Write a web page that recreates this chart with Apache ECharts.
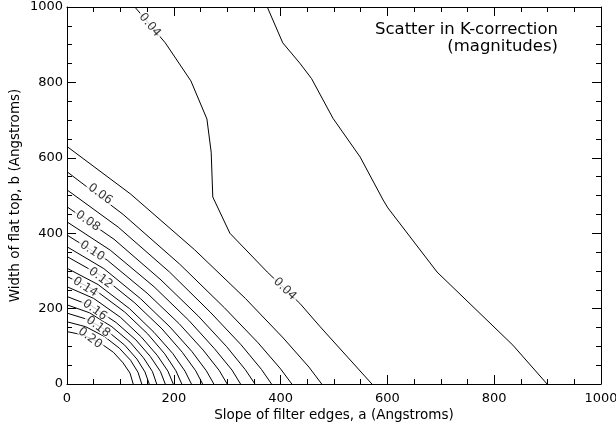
<!DOCTYPE html>
<html>
<head>
<meta charset="utf-8">
<script src="https://cdn.jsdelivr.net/npm/echarts@6/dist/echarts.min.js"></script>
<style>
  html, body { margin: 0; padding: 0; background: #fff; }
  #chart { width: 616px; height: 427px; }
</style>
</head>
<body>
<div id="chart"></div>
<script>
// contour levels, scatter in K-correction (mag)
const levels = ['0.03', '0.04', '0.05', '0.06', '0.07', '0.08', '0.09', '0.10', '0.11',
  '0.12', '0.13', '0.14', '0.15', '0.16', '0.17', '0.18', '0.19', '0.20']

// each contour as [a, b] points (Angstroms)
const k03 = [[375, 1000], [404, 905], [436, 851], [458, 810], [498, 705], [549, 602], [592, 488], [601, 467], [693, 297], [835, 103], [899, 0]]
const k04 = [[127, 1000], [184, 905], [232, 804], [262, 703], [270, 615], [273, 496], [305, 400], [375, 297], [436, 214], [474, 152], [571, 0]]
const k05 = [[0, 630], [119, 504], [239, 356], [334, 227], [405, 122], [453, 45], [477, 0]]
const k06 = [[0, 563], [105, 450], [211, 318], [295, 202], [358, 109], [400, 40], [421, 0]]
const k07 = [[0, 515], [96, 416], [192, 297], [268, 191], [326, 104], [364, 39], [383, 0]]
const k08 = [[0, 470], [88, 384], [176, 276], [246, 180], [299, 99], [334, 38], [352, 0]]
const k09 = [[0, 430], [81, 355], [163, 258], [228, 169], [276, 94], [309, 37], [325, 0]]
const k10 = [[0, 395], [75, 329], [150, 241], [210, 160], [255, 90], [285, 36], [300, 0]]
const k11 = [[0, 364], [69, 306], [138, 226], [193, 151], [234, 86], [261, 35], [275, 0]]
const k12 = [[0, 338], [64, 287], [127, 215], [178, 146], [216, 84], [241, 35], [254, 0]]
const k13 = [[0, 307], [58, 264], [117, 200], [163, 137], [198, 81], [221, 34], [233, 0]]
const k14 = [[0, 285], [54, 248], [108, 191], [151, 133], [183, 80], [204, 35], [215, 0]]
const k15 = [[0, 258], [50, 227], [100, 177], [139, 125], [169, 76], [189, 34], [199, 0]]
const k16 = [[0, 232], [46, 207], [92, 163], [129, 117], [156, 73], [175, 33], [184, 0]]
const k17 = [[0, 210], [42, 189], [84, 152], [118, 111], [143, 70], [160, 33], [168, 0]]
const k18 = [[0, 188], [39, 171], [77, 139], [108, 103], [131, 66], [146, 32], [154, 0]]
const k19 = [[0, 165], [35, 152], [70, 126], [98, 95], [119, 63], [133, 31], [140, 0]]
const k20 = [[0, 139], [31, 130], [62, 109], [87, 84], [105, 56], [118, 29], [124, 0]]
const paths = [k03, k04, k05, k06, k07, k08, k09, k10, k11, k12, k13, k14, k15, k16, k17, k18, k19, k20]

// in-line contour labels
const labelText = ['0.04', '0.04', '0.06', '0.08', '0.10', '0.12', '0.14', '0.16', '0.18', '0.20']
const labelPos = [[155, 952], [408, 252], [62, 504], [39, 432], [47, 353], [63, 281], [34, 257], [52, 196], [58, 152], [43, 122]]
const labelAngle = [-50, -44, -36, -35, -33, -37, -33, -36, -37, -37]

const font = '"DejaVu Sans", Arial, sans-serif'
const black = '#000'

function axis(pos, showLabel) {
  return {
    type: 'value',
    position: pos,
    min: 0,
    max: 1000,
    interval: 200,
    axisLine: { show: true, onZero: false, lineStyle: { color: black, width: 1 } },
    axisTick: { show: true, inside: true, length: 9, lineStyle: { color: black } },
    minorTick: { show: true, splitNumber: 4, length: 5, lineStyle: { color: black } },
    splitLine: { show: false },
    axisLabel: {
      show: showLabel,
      color: black,
      fontSize: 13,
      fontFamily: font,
      margin: pos === 'left' ? 4 : 8,
      showMinLabel: true,
      showMaxLabel: true,
      formatter: v => String(v)
    }
  }
}

const xBottom = Object.assign(axis('bottom', true), {
  name: 'Slope of filter edges, a (Angstroms)',
  nameLocation: 'middle',
  nameGap: 24,
  nameMoveOverlap: false,
  nameTextStyle: { color: black, fontSize: 13.5, fontFamily: font }
})
const yLeft = Object.assign(axis('left', true), {
  name: 'Width of flat top, b (Angstroms)',
  nameLocation: 'middle',
  nameGap: 45,
  nameMoveOverlap: false,
  nameTextStyle: { color: black, fontSize: 13.5, fontFamily: font }
})

const series = paths.map((p, i) => ({
  name: levels[i],
  type: 'line',
  data: p,
  xAxisIndex: 0,
  yAxisIndex: 0,
  showSymbol: false,
  symbol: 'none',
  smooth: false,
  silent: true,
  z: 2,
  lineStyle: { color: black, width: 1 }
}))

series.push({
  type: 'scatter',
  xAxisIndex: 0,
  yAxisIndex: 0,
  symbolSize: 0,
  silent: true,
  z: 5,
  data: labelPos.map((p, i) => ({
    value: p,
    label: { rotate: labelAngle[i], formatter: labelText[i] }
  })),
  label: {
    show: true,
    position: 'inside',
    color: black,
    fontSize: 12,
    fontFamily: font,
    backgroundColor: '#fff',
    padding: [0, 2],
    lineHeight: 8
  }
})

let chart = echarts.init(document.getElementById('chart'))

chart.setOption({
  animation: false,
  backgroundColor: '#fff',
  grid: { left: 67, right: 15, top: 7, bottom: 43, outerBoundsMode: 'none' },
  xAxis: [xBottom, axis('top', false)],
  yAxis: [yLeft, axis('right', false)],
  graphic: [
    {
      type: 'text',
      x: 558,
      y: 21,
      style: {
        text: 'Scatter in K-correction\n(magnitudes)',
        align: 'right',
        verticalAlign: 'top',
        fill: black,
        font: '16.5px ' + font,
        lineHeight: 17
      }
    }
  ],
  series: series
})
</script>
</body>
</html>
